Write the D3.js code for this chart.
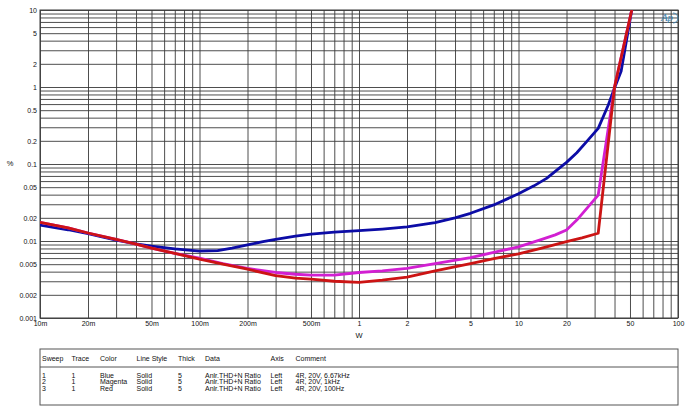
<!DOCTYPE html>
<html><head><meta charset="utf-8">
<script src="https://cdn.jsdelivr.net/npm/d3@7/dist/d3.min.js"></script>
<style>
body{margin:0;background:#fff;}
svg{display:block;font-family:"Liberation Sans",Arial,sans-serif;}
</style></head>
<body><svg id="c" width="690" height="419"></svg>
<script>
// ---- data ----
const xTickValues = [0.01,0.02,0.05,0.1,0.2,0.5,1,2,5,10,20,50,100];
const xTickLabels = ["10m","20m","50m","100m","200m","500m","1","2","5","10","20","50","100"];
const yTickValues = [10,5,2,1,0.5,0.2,0.1,0.05,0.02,0.01,0.005,0.002,0.001];
const yTickLabels = ["10","5","2","1","0.5","0.2","0.1","0.05","0.02","0.01","0.005","0.002","0.001"];

const blueW = [0.01,0.015,0.02,0.03,0.04,0.05,0.07,0.085,0.1,0.13,0.16,0.2,0.25,0.3,0.4,0.5,0.7,1,1.4,2,3,4,5,7,10,12.5,15,17,20,23.2,27,31.6,36.5,40,44,51.3];
const blueV = [0.0161,0.014,0.0125,0.0103,0.0092,0.0086,0.0079,0.0076,0.0074,0.0075,0.0081,0.0089,0.0098,0.0105,0.0116,0.0123,0.013,0.0136,0.0143,0.0153,0.0173,0.02,0.0229,0.0294,0.041,0.052,0.065,0.08,0.105,0.14,0.2,0.29,0.58,0.97,1.6,10];
const magW  = [0.01,0.015,0.02,0.03,0.04,0.05,0.07,0.1,0.14,0.2,0.3,0.4,0.5,0.7,1,1.4,2,3,5,7,10,14,17,20,23.2,31.6,40,51.3];
const magV  = [0.0175,0.0148,0.0127,0.0105,0.0091,0.0081,0.0069,0.006,0.0051,0.0044,0.0039,0.0037,0.0036,0.0036,0.0039,0.0041,0.0044,0.0051,0.0061,0.0071,0.0084,0.0105,0.012,0.0139,0.0187,0.0395,1.0,10];
const redW  = [0.01,0.015,0.02,0.03,0.04,0.05,0.07,0.1,0.14,0.2,0.3,0.4,0.5,0.7,1,1.4,2,3,5,7,10,14,20,25,31.6,40,51.3];
const redV  = [0.0175,0.0148,0.0127,0.0105,0.0091,0.0081,0.0069,0.0058,0.005,0.0043,0.00355,0.0033,0.0032,0.0030,0.0029,0.0031,0.0034,0.0041,0.0051,0.0059,0.0068,0.0081,0.0098,0.011,0.0126,1.0,10];

const seriesNames  = ["Blue","Magenta","Red"];
const seriesColors = ["#0c0ca6","#d21fd2","#cc1414"];

const tableHeaders = ["Sweep","Trace","Color","Line Style","Thick","Data","Axis","Comment"];
const tableRows = [
  ["1","1","Blue","Solid","5","Anlr.THD+N Ratio","Left","4R, 20V, 6.67kHz"],
  ["2","1","Magenta","Solid","5","Anlr.THD+N Ratio","Left","4R, 20V, 1kHz"],
  ["3","1","Red","Solid","5","Anlr.THD+N Ratio","Left","4R, 20V, 100Hz"]
];

// ---- layout ----
const L=40,R=678,T=10,B=318;
const svg=d3.select("#c");
const x=d3.scaleLog().domain([0.01,100]).range([L,R]);
const y=d3.scaleLog().domain([0.001,10]).range([B,T]);

function minors(lo,hi){const a=[];for(let d=lo;d<hi*0.999;d*=10){for(let k=1;k<=9;k++)a.push(d*k);}a.push(hi);return a;}
const gridCol="#3a3a3a";

// grid
svg.append("g").attr("transform",`translate(0,${B})`)
  .call(d3.axisBottom(x).tickValues(minors(0.01,100)).tickSize(-(B-T)).tickFormat(""))
  .call(g=>{g.select(".domain").remove();g.selectAll("line").attr("stroke",gridCol).attr("stroke-width",0.9);});
svg.append("g").attr("transform",`translate(${L},0)`)
  .call(d3.axisLeft(y).tickValues(minors(0.001,10)).tickSize(-(R-L)).tickFormat(""))
  .call(g=>{g.select(".domain").remove();g.selectAll("line").attr("stroke",gridCol).attr("stroke-width",0.9);});
svg.append("rect").attr("x",L).attr("y",T).attr("width",R-L).attr("height",B-T)
  .attr("fill","none").attr("stroke",gridCol).attr("stroke-width",1);

// tick labels
svg.append("g").attr("transform",`translate(0,${B})`)
  .call(d3.axisBottom(x).tickValues(xTickValues).tickSize(0).tickPadding(3).tickFormat((d,i)=>xTickLabels[i]))
  .call(g=>{g.select(".domain").remove();g.selectAll("text").attr("font-size",7).attr("fill","#111").attr("font-family","Liberation Sans, Arial, sans-serif");});
svg.append("g").attr("transform",`translate(${L},0)`)
  .call(d3.axisLeft(y).tickValues(yTickValues).tickSize(0).tickPadding(3).tickFormat((d,i)=>yTickLabels[i]))
  .call(g=>{g.select(".domain").remove();g.selectAll("text").attr("font-size",7).attr("fill","#111").attr("font-family","Liberation Sans, Arial, sans-serif");});

svg.append("text").attr("x",359).attr("y",338).attr("text-anchor","middle").attr("font-size",7.5).attr("fill","#111").text("W");
svg.append("text").attr("x",10).attr("y",166).attr("text-anchor","middle").attr("font-size",7.5).attr("fill","#111").text("%");

// curves
svg.append("defs").append("clipPath").attr("id","clip").append("rect")
  .attr("x",L).attr("y",T).attr("width",R-L).attr("height",B-T);
const line=d3.line().x(d=>x(d[0])).y(d=>y(d[1]));
const data=[d3.zip(blueW,blueV),d3.zip(magW,magV),d3.zip(redW,redV)];
svg.append("g").attr("clip-path","url(#clip)").selectAll("path").data(data).join("path")
  .attr("d",line).attr("fill","none").attr("stroke",(d,i)=>seriesColors[i])
  .attr("stroke-width",2.8).attr("stroke-linejoin","round");

// AP logo
svg.append("text").attr("x",667).attr("y",21).attr("text-anchor","middle")
  .attr("font-size",11).attr("font-style","italic").attr("fill","#3f86b3")
  .attr("font-family","Liberation Serif, serif").text("Ap");
svg.append("path").attr("d","M673,13 A5,5 0 0 1 673,23").attr("fill","none").attr("stroke","#3f86b3").attr("stroke-width",0.9);

// table
const tX=40,tY=349,tW=638,tH=56,sepY=367;
svg.append("rect").attr("x",tX).attr("y",tY).attr("width",tW).attr("height",tH)
  .attr("fill","none").attr("stroke","#555").attr("stroke-width",1);
svg.append("line").attr("x1",tX).attr("x2",tX+tW).attr("y1",sepY).attr("y2",sepY).attr("stroke","#555");
const colX=[42,71.5,100,136.5,178,205,270.5,295.5];
const tg=svg.append("g").attr("font-size",7).attr("fill","#111");
tableHeaders.forEach((h,i)=>tg.append("text").attr("x",colX[i]).attr("y",360.5).text(h));
tableRows.forEach((r,j)=>r.forEach((c,i)=>tg.append("text").attr("x",colX[i]).attr("y",377.5+j*6.7).text(c)));
</script></body></html>
